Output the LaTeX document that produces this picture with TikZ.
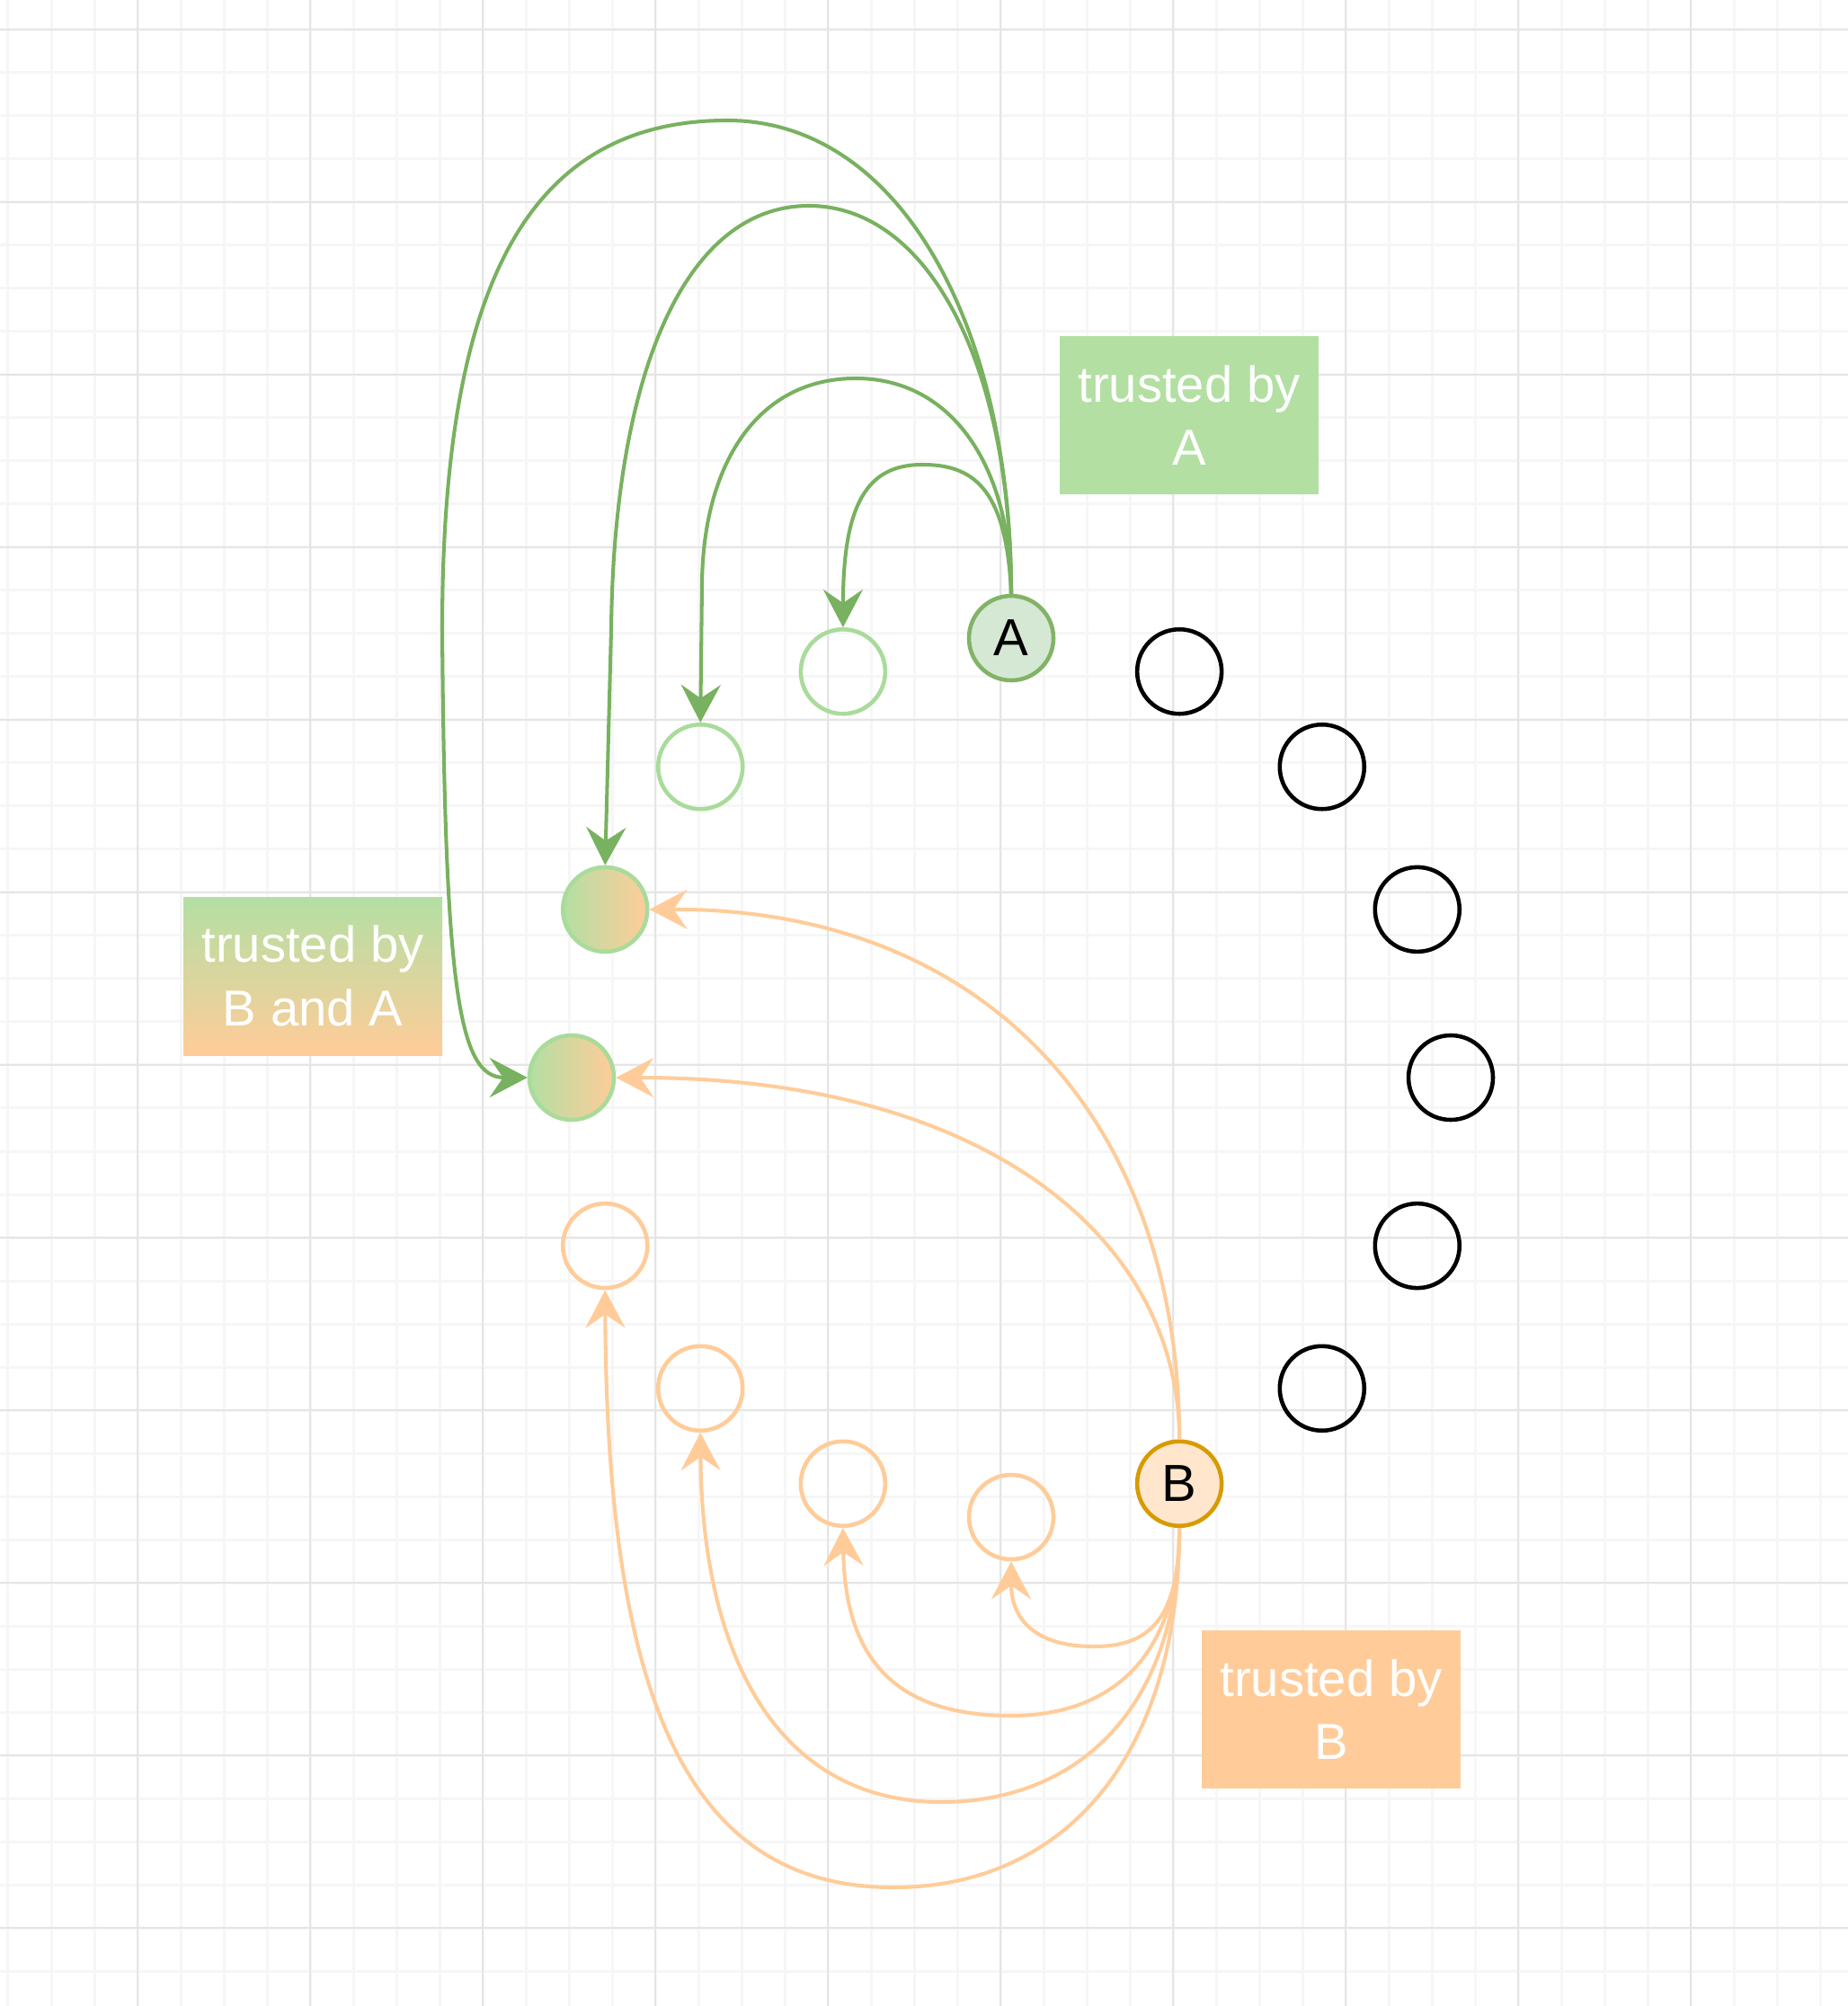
\documentclass[tikz,border=0pt]{standalone}
\usepackage{fontspec}
\setmainfont{Liberation Sans}
\usetikzlibrary{arrows.meta,calc}

\definecolor{gridminor}{HTML}{F6F6F6}
\definecolor{gridmajor}{HTML}{E5E5E5}
\definecolor{boxgreen}{HTML}{B3DFA3}
\definecolor{boxorange}{HTML}{FFCC99}
\definecolor{ringgreen}{HTML}{A9DB9B}
\definecolor{linkgreen}{HTML}{78B15F}
\definecolor{linkorange}{HTML}{FFCC99}
\definecolor{fillA}{HTML}{D5E8D4}
\definecolor{drawA}{HTML}{82B366}
\definecolor{fillB}{HTML}{FFE6CC}
\definecolor{drawB}{HTML}{D79B00}

\begin{document}
\begin{tikzpicture}[>={Stealth[length=0.42cm,width=0.44cm,inset=0.15cm]},
  peer/.style={circle,minimum size=0.94cm,inner sep=0pt,line width=1.3pt,
    font=\fontsize{16.5}{20}\selectfont},
  label box/.style={minimum width=2.88cm,minimum height=1.76cm,align=center,
    text=white,font=\fontsize{16}{20}\selectfont},
  trustA/.style={->,linkgreen,line width=1.15pt},
  trustB/.style={->,linkorange,line width=1.15pt}]
  \useasboundingbox (0,0) rectangle (20.56,-22.32);
  \fill[white] (0,0) rectangle (20.56,-22.32);

  % grid
  \foreach \i in {0,...,42}
    \draw[gridminor,line width=0.03cm] ({0.09+0.48*\i},0) -- ++(0,-22.32);
  \foreach \i in {0,...,45}
    \draw[gridminor,line width=0.03cm] (0,{-0.33-0.48*\i}) -- ++(20.56,0);
  \foreach \i in {0,...,9}
    \draw[gridmajor,line width=0.02cm] ({1.53+1.92*\i},0) -- ++(0,-22.32);
  \foreach \i in {0,...,11}
    \draw[gridmajor,line width=0.02cm] (0,{-0.33-1.92*\i}) -- ++(20.56,0);

  % ring of peers
  \coordinate (O) at (11.25,-11.99);
  \node[peer,draw=drawA,fill=fillA] (A) at ($(O)+(90:4.89)$) {A};
  \node[peer,draw=drawB,fill=fillB] (B) at ($(O)+(-67.5:4.89)$) {B};
  \foreach \a [count=\i] in {67.5,45,22.5,0,-22.5,-45}
    \node[peer,draw=black] (n\i) at ($(O)+(\a:4.89)$) {};
  \node[peer,draw=ringgreen] (ga1) at ($(O)+(112.5:4.89)$) {};
  \node[peer,draw=ringgreen] (ga2) at ($(O)+(135:4.89)$) {};
  \node[peer,draw=ringgreen,left color=boxgreen,right color=boxorange] (ab1) at ($(O)+(157.5:4.89)$) {};
  \node[peer,draw=ringgreen,left color=boxgreen,right color=boxorange] (ab2) at ($(O)+(180:4.89)$) {};
  \node[peer,draw=linkorange] (gb4) at ($(O)+(202.5:4.89)$) {};
  \node[peer,draw=linkorange] (gb3) at ($(O)+(225:4.89)$) {};
  \node[peer,draw=linkorange] (gb2) at ($(O)+(247.5:4.89)$) {};
  \node[peer,draw=linkorange] (gb1) at ($(O)+(270:4.89)$) {};

  % labels
  \node[label box,fill=boxgreen] (labA) at (13.23,-4.62) {trusted by\\A};
  \node[label box,top color=boxgreen,bottom color=boxorange] (labAB) at (3.48,-10.86) {trusted by\\B and A};
  \node[label box,fill=boxorange] (labB) at (14.81,-19.02) {trusted by\\B};

  % trusted by A
  \draw[trustA] (A.north) .. controls (11.20,-5.40) and (10.80,-5.17) .. (10.26,-5.17)
    .. controls (9.65,-5.17) and (9.38,-5.60) .. (ga1.north);
  \draw[trustA] (A.north) .. controls (11.25,-5.20) and (10.60,-4.21) .. (9.52,-4.21)
    .. controls (8.40,-4.21) and (7.82,-5.20) .. (7.81,-6.50) -- (ga2.north);
  \draw[trustA] (A.north) .. controls (11.25,-4.00) and (10.30,-2.29) .. (9.00,-2.29)
    .. controls (7.60,-2.29) and (6.83,-4.20) .. (6.80,-7.00) -- (ab1.north);
  \draw[trustA] (A.north) .. controls (11.25,-3.60) and (10.00,-1.34) .. (8.09,-1.34)
    .. controls (5.80,-1.34) and (4.92,-3.30) .. (4.92,-7.00)
    .. controls (4.95,-11.00) and (5.10,-11.99) .. (ab2.west);

  % trusted by B
  \draw[trustB] (B.south) .. controls (13.12,-18.00) and (12.80,-18.32) .. (12.17,-18.32)
    .. controls (11.50,-18.32) and (11.25,-18.00) .. (gb1.south);
  \draw[trustB] (B.south) .. controls (13.12,-18.50) and (12.30,-19.09) .. (11.25,-19.09)
    .. controls (10.00,-19.09) and (9.40,-18.50) .. (gb2.south);
  \draw[trustB] (B.south) .. controls (13.12,-19.00) and (12.00,-20.05) .. (10.47,-20.05)
    .. controls (8.70,-20.05) and (7.81,-18.50) .. (gb3.south);
  \draw[trustB] (B.south) .. controls (13.12,-19.60) and (11.80,-21.00) .. (9.94,-21.00)
    .. controls (7.70,-21.00) and (6.75,-19.00) .. (gb4.south);
  \draw[trustB] (B.north) .. controls (13.12,-12.50) and (11.00,-10.11) .. (ab1.east);
  \draw[trustB] (B.north) .. controls (13.12,-13.80) and (11.00,-11.99) .. (ab2.east);
\end{tikzpicture}
\end{document}
